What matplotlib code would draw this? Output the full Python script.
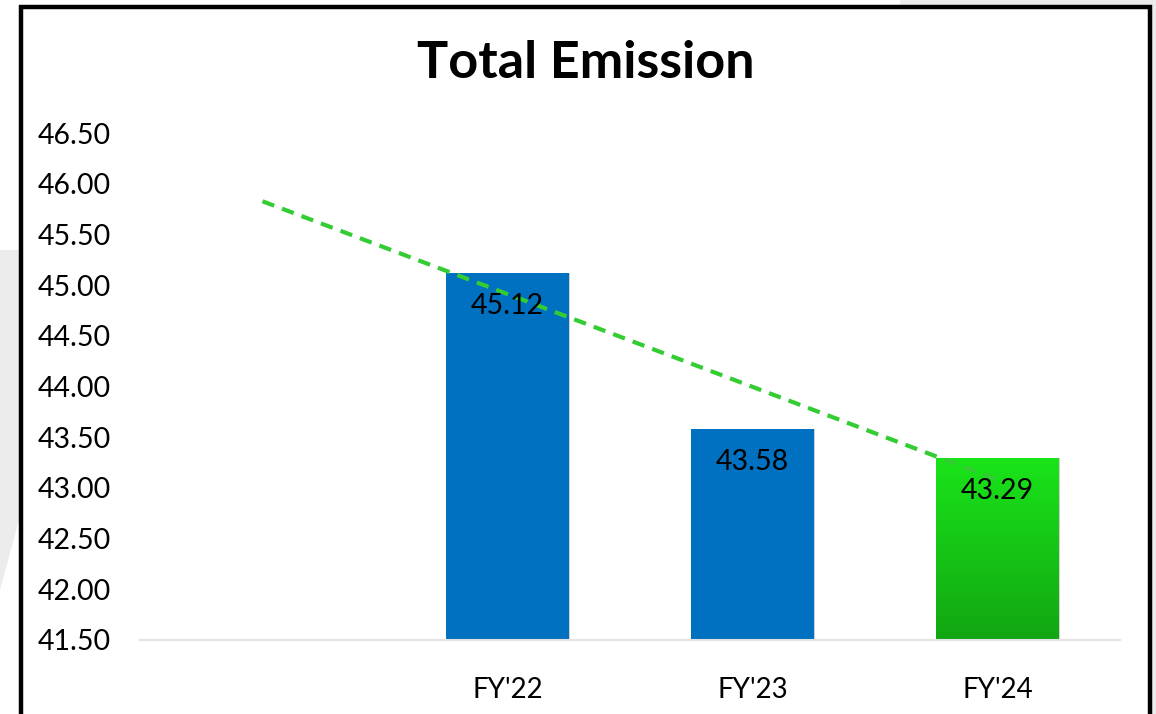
import numpy as np
import matplotlib
matplotlib.use("Agg")
import matplotlib.pyplot as plt
from matplotlib.patches import Rectangle, Polygon

plt.rcParams['font.family'] = ['Lato', 'DejaVu Sans']

# data
categories = ['', "FY'22", "FY'23", "FY'24"]
values = [np.nan, 45.12, 43.58, 43.29]
bar_colors = ['#0070c0', '#0070c0', '#0070c0', None]  # last bar uses gradient
y_ticks = [41.5, 42.0, 42.5, 43.0, 43.5, 44.0, 44.5, 45.0, 45.5, 46.0, 46.5]

W, H = 1156, 714
fig = plt.figure(figsize=(W / 100, H / 100), dpi=100)
fig.patch.set_facecolor('white')

# slide background bits outside the frame
fig.add_artist(Polygon([(0, 1 - 250 / H), (19 / W, 1 - 250 / H), (19 / W, 1 - 520 / H), (0, 1 - 590 / H)],
                       closed=True, transform=fig.transFigure, fc='#ececec', ec='none', zorder=0))
fig.add_artist(Polygon([(900 / W, 1), (1, 1), (1, 0), (1152 / W, 0), (1152 / W, 1 - 5 / H), (900 / W, 1 - 5 / H)],
                       closed=True, transform=fig.transFigure, fc='#ececec', ec='none', zorder=0))
# black frame
fig.add_artist(Rectangle((21 / W, -0.05), (1149.5 - 21) / W, 1.05 - 6.5 / H,
                         transform=fig.transFigure, fill=False, ec='black', lw=3.2, zorder=1))

ax = fig.add_axes([140 / W, 1 - 640 / H, 980 / W, 507 / H])
ax.set_facecolor('none')
x = np.arange(len(categories))
ymin, ymax = 41.5, 46.5

bars = ax.bar(x, values, width=0.5, color=[c if c else 'none' for c in bar_colors],
              zorder=2)

# subtle shadow under bars
for xi, v in zip(x, values):
    if np.isnan(v):
        continue
    ax.add_patch(Rectangle((xi - 0.25 + 0.004, ymin), 0.5, v - ymin, fc='#d0d0d0',
                           ec='none', zorder=1.5))

# gradient for last bar
grad = np.linspace(0, 1, 256).reshape(-1, 1)
cmap = matplotlib.colors.LinearSegmentedColormap.from_list('g', ['#1ae41a', '#12a612'])
last = bars[3]
im = ax.imshow(grad, cmap=cmap, aspect='auto', extent=[x[3] - 0.25, x[3] + 0.25, ymin, values[3]],
               origin='upper', zorder=2.1)
im.set_clip_path(last)

# linear trendline, extended back one period
mask = ~np.isnan(values)
k, b = np.polyfit(x[mask], np.array(values)[mask], 1)
ax.plot([x[0], x[3]], [k * x[0] + b, k * x[3] + b], ls=(0, (3, 2)), color='#33cc33',
        lw=3, zorder=3)

for xi, v in zip(x, values):
    if np.isnan(v):
        continue
    ax.annotate(f'{v:.2f}', (xi, v), xytext=(0, -33), textcoords='offset pixels',
                ha='center', va='center', fontsize=20.5, color='black', zorder=4)

ax.set_xlim(-0.5, 3.5)
ax.set_ylim(ymin, ymax)
ax.set_yticks(y_ticks)
ax.set_yticklabels([f'{t:.2f}' for t in y_ticks])
ax.set_xticks(x)
ax.set_xticklabels(categories)
ax.tick_params(axis='y', length=0, pad=21, labelsize=20.5)
ax.tick_params(axis='x', length=0, pad=27, labelsize=20)
for s in ['top', 'right', 'left']:
    ax.spines[s].set_visible(False)
ax.spines['bottom'].set_color('#e3e3e3')
ax.spines['bottom'].set_linewidth(1.5)

fig.text(586 / W, 1 - 63 / H, 'Total Emission', ha='center', va='center',
         fontsize=37.5, fontweight='bold')

fig.savefig('out.png', dpi=100)
